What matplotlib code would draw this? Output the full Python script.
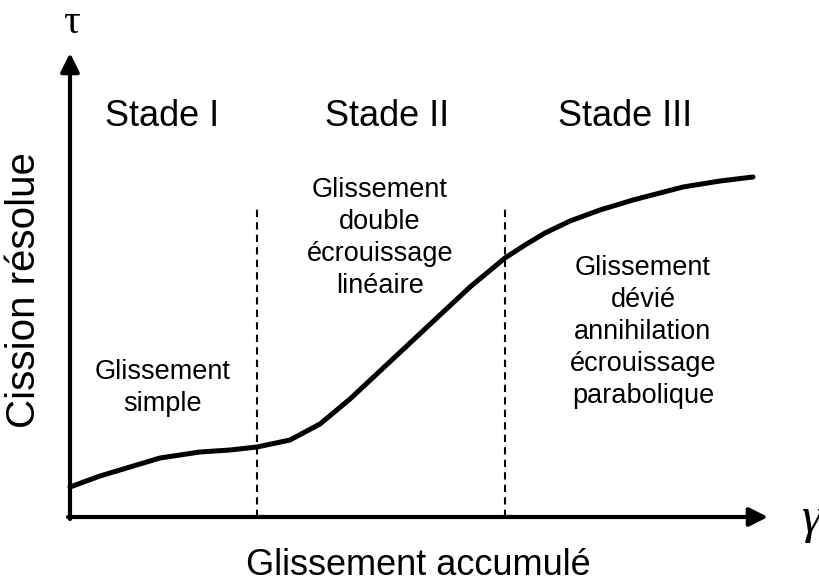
import matplotlib
matplotlib.use("Agg")
import matplotlib.pyplot as plt

# Schematic work-hardening curve, in units relative to the axes origin
gamma = [0, 30, 60, 90, 130, 160, 187, 220, 250, 280, 310, 340, 370, 400,
         435, 455, 475, 500, 530, 563, 613, 650, 683]
tau = [30, 41, 50, 59, 65, 67, 70, 77, 93, 118, 146, 174, 202, 230,
       259, 272, 284, 296, 307, 317, 330, 336, 340]

stage_bounds = [187, 435]
stage_titles = ["Stade I", "Stade II", "Stade III"]
stage_notes = [
    "Glissement\nsimple",
    "Glissement\ndouble\nécrouissage\nlinéaire",
    "Glissement\ndévié\nannihilation\nécrouissage\nparabolique",
]

plt.rcParams["font.family"] = ["Liberation Sans", "DejaVu Sans"]

fig = plt.figure(figsize=(8.2, 5.82), dpi=100)
ax = fig.add_axes([0, 0, 1, 1])
ax.set_xlim(-70, 750)
ax.set_ylim(-65, 517)
ax.axis("off")

# axes with arrows
arrow = dict(arrowstyle="-|>", lw=3, color="black", mutation_scale=28,
             shrinkA=0, shrinkB=0)
ax.annotate("", xy=(0, 464), xytext=(0, -2), arrowprops=arrow)
ax.annotate("", xy=(698, 0), xytext=(-2, 0), arrowprops=arrow)
serif = ["Liberation Serif", "DejaVu Serif"]
ax.text(1, 484, "τ", ha="center", va="baseline", fontsize=30, family=serif)
ax.text(731, -3, "γ", ha="left", va="center", fontsize=36, family=serif,
        style="italic")

# curve
ax.plot(gamma, tau, color="black", lw=3.6, solid_capstyle="round",
        solid_joinstyle="round")

# stage boundaries
for gb, top in zip(stage_bounds, [312, 310]):
    ax.plot([gb, gb], [0, top], color="black", lw=1.5,
            linestyle=(0, (3.5, 2.5)))

# labels
for x, t in zip([92, 317, 555], stage_titles):
    ax.text(x, 400, t, ha="center", va="center", fontsize=26)
for (x, y), note in zip([(93, 129), (310, 279), (573, 185)], stage_notes):
    ax.text(x, y, note, ha="center", va="center", fontsize=19.5,
            linespacing=1.3)

ax.text(348, -58, "Glissement accumulé", ha="center", va="baseline",
        fontsize=26)
ax.text(-46, 227, "Cission résolue", ha="center", va="center",
        rotation=90, fontsize=29)

fig.savefig("out.png", dpi=100)
